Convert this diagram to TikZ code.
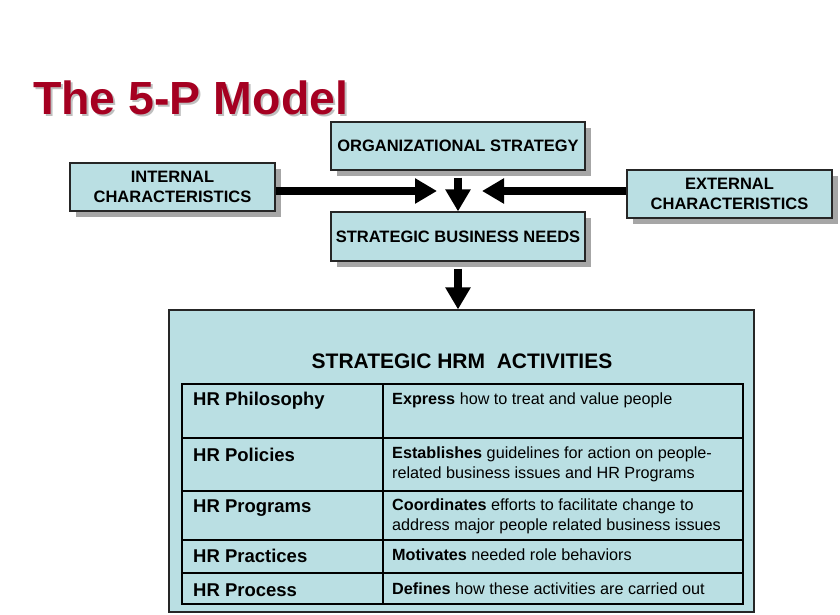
\documentclass[tikz,border=0pt]{standalone}
\usepackage{fontspec}
\setmainfont{Liberation Sans}
\usetikzlibrary{positioning,shadows,arrows.meta}
\definecolor{boxcyan}{RGB}{186,223,227}
\definecolor{titlered}{RGB}{165,0,33}

\tikzset{
  infobox/.style={draw=black!85, line width=1.2pt, fill=boxcyan, align=center, inner sep=0pt,
    font=\fontsize{16.5}{19.5}\selectfont\bfseries,
    drop shadow={shadow xshift=6pt, shadow yshift=-6pt, fill=black!35, opacity=1}},
  bigarrow/.style={line width=8pt, -{Triangle[width=24pt,length=22pt]}},
  rowlabel/.style={anchor=west, inner sep=0pt, font=\fontsize{18.5}{20}\selectfont\bfseries},
  rowtext/.style={anchor=west, inner sep=0pt, align=left, font=\fontsize{16.2}{19.5}\selectfont},
}

\begin{document}
\begin{tikzpicture}[x=1pt,y=-1pt]
\useasboundingbox[fill=white] (0,0) rectangle (840,615);

% Title
\node[anchor=west, text=black!25, font=\fontsize{46.5}{50}\selectfont\bfseries] at (31.5,99.5) {The 5-P Model};
\node[anchor=west, text=titlered, font=\fontsize{46.5}{50}\selectfont\bfseries] (title) at (29.5,97.5) {The 5-P Model};

% Upper boxes
\node[infobox, minimum width=254pt, minimum height=48pt] (orgstrat) at (458,146) {ORGANIZATIONAL STRATEGY};
\node[infobox, minimum width=205pt, minimum height=48pt] (internal) at (172.5,187) {INTERNAL\\CHARACTERISTICS};
\node[infobox, minimum width=205pt, minimum height=48pt] (external) at (729.5,194) {EXTERNAL\\CHARACTERISTICS};
\node[infobox, minimum width=254pt, minimum height=49pt] (needs) at (458,236.5) {STRATEGIC BUSINESS NEEDS};

% Arrows
\coordinate (inhead) at (437,191);
\coordinate (exhead) at (482,191);
\draw[bigarrow] (internal.east |- inhead) -- (inhead);
\draw[bigarrow] (external.west |- exhead) -- (exhead);
\draw[bigarrow] ([yshift=-7pt]orgstrat.south) -- (needs.north);

% Activities box
\node[draw=black!85, line width=1.2pt, fill=boxcyan, minimum width=585pt, minimum height=302pt, inner sep=0pt] (activities) at (461.5,461) {};
\draw[bigarrow] ([yshift=-7pt]needs.south) -- (needs.south |- activities.north);
\node[font=\fontsize{21}{23}\selectfont\bfseries] (acttitle) at (462,361) {STRATEGIC HRM\ \ ACTIVITIES};

% Table
\draw[line width=1.5pt] (383,384) -- (383,604);
\draw[line width=1.5pt] (182,438) -- (743,438);
\draw[line width=1.5pt] (182,491) -- (743,491);
\draw[line width=1.5pt] (182,540) -- (743,540);
\draw[line width=1.5pt] (182,573) -- (743,573);
\draw[line width=2.6pt] (182,384) rectangle (743,604);

% Rows
\node[rowlabel] (philo) at (193,401) {HR Philosophy};
\node[rowtext] (philotxt) at (392,400) {\textbf{Express} how to treat and value people};
\node[rowlabel] (polic) at (193,455) {HR Policies};
\node[rowtext] (polictxt) at (392,464.5) {\textbf{Establishes} guidelines for action on people-\\related business issues and HR Programs};
\node[rowlabel] (progr) at (193,508) {HR Programs};
\node[rowtext] (progrtxt) at (392,516.5) {\textbf{Coordinates} efforts to facilitate change to\\address major people related business issues};
\node[rowlabel] (pract) at (193,556) {HR Practices};
\node[rowtext] (practtxt) at (392,555) {\textbf{Motivates} needed role behaviors};
\node[rowlabel] (proc) at (193,590) {HR Process};
\node[rowtext] (proctxt) at (392,589) {\textbf{Defines} how these activities are carried out};
\end{tikzpicture}
\end{document}
